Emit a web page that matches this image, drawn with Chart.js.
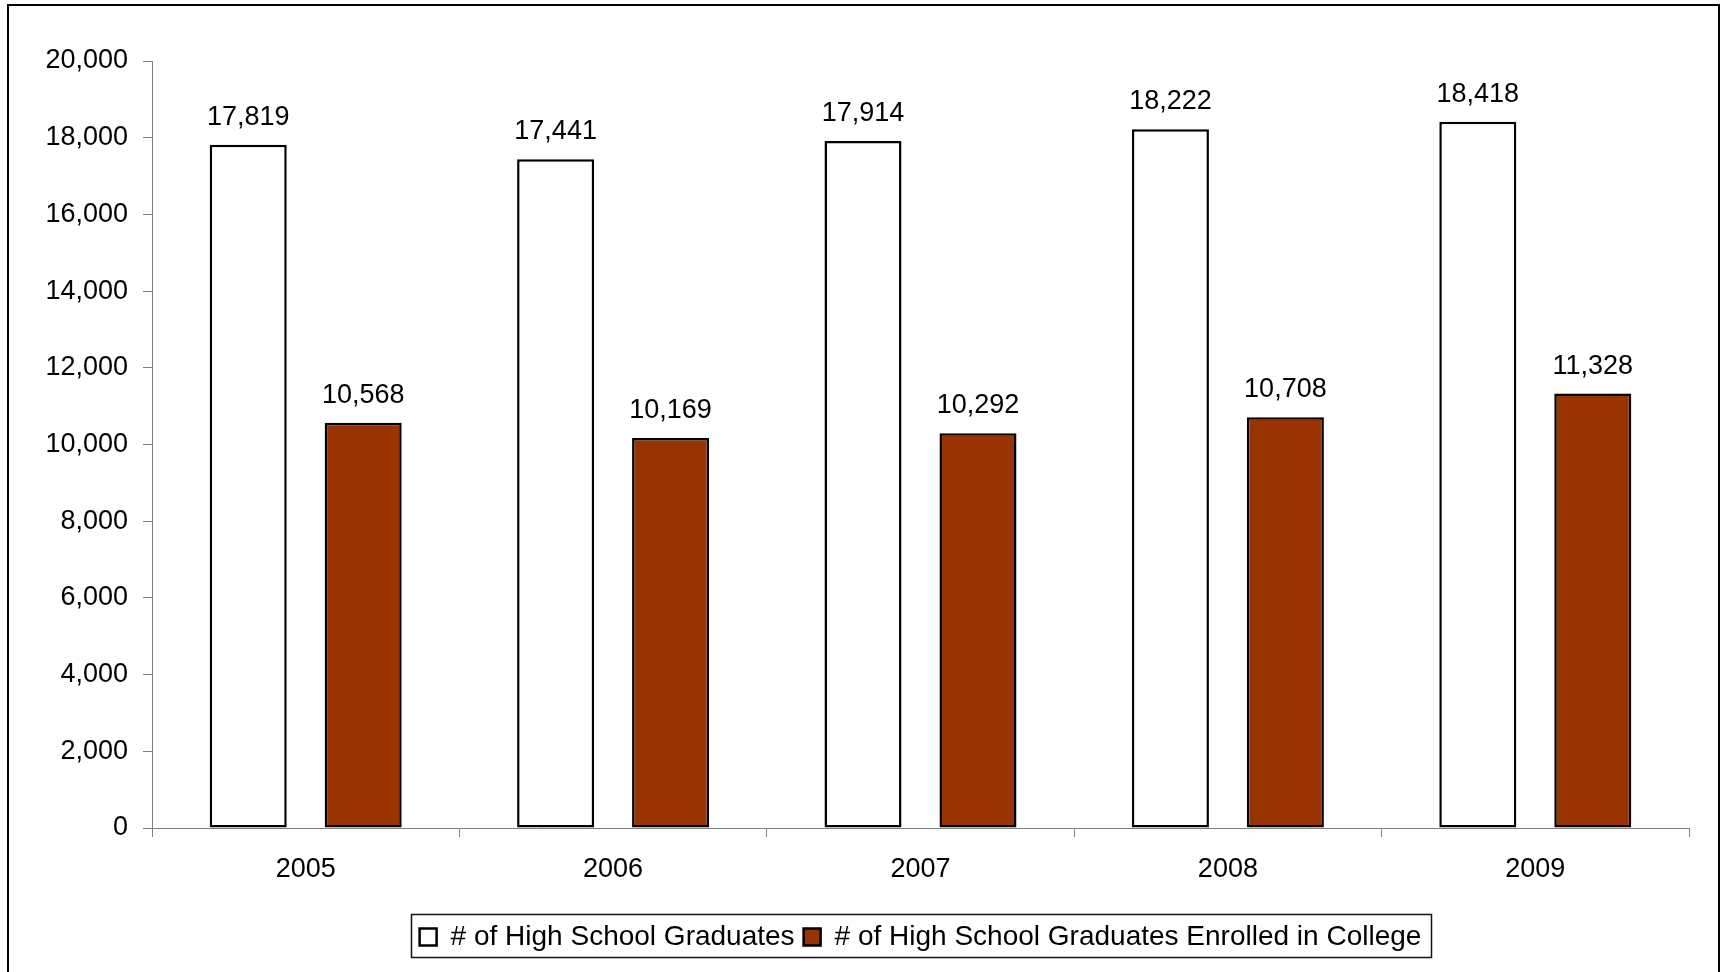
<!DOCTYPE html>
<html>
<head>
<meta charset="utf-8">
<script src="https://cdn.jsdelivr.net/npm/chart.js@4.4.1/dist/chart.umd.min.js"></script>
<style>
    html, body { margin: 0; padding: 0; background: #fff; }
    canvas { display: block; }
</style>
</head>
<body>
<canvas id="gradChart" width="1722" height="972"></canvas>
<script>
// values
const years = ["2005", "2006", "2007", "2008", "2009"];
const graduates = [17819, 17441, 17914, 18222, 18418];
const enrolled = [10568, 10169, 10292, 10708, 11328];
const yTicks = [0, 2000, 4000, 6000, 8000, 10000, 12000, 14000, 16000, 18000, 20000];

const FONT = "'Liberation Sans', Arial, sans-serif";
const fmt = v => v.toLocaleString("en-US");

// value labels over each bar
const valueLabels = {
    id: "valueLabels",
    afterDatasetsDraw(chart) {
        const ctx = chart.ctx;
        ctx.save();
        ctx.font = "27px " + FONT;
        ctx.fillStyle = "#000";
        ctx.textAlign = "center";
        ctx.textBaseline = "alphabetic";
        chart.data.datasets.forEach((ds, i) => {
            chart.getDatasetMeta(i).data.forEach((bar, j) => {
                ctx.fillText(fmt(ds.data[j]), bar.x, bar.y - 20);
            });
        });
        ctx.restore();
    }
};

// outer frame + box round the legend
const frame = {
    id: "frame",
    afterDraw(chart) {
        const ctx = chart.ctx;
        ctx.save();
        ctx.strokeStyle = "#000";
        ctx.lineWidth = 2;
        ctx.beginPath();
        ctx.moveTo(8, chart.height);
        ctx.lineTo(8, 5);
        ctx.lineTo(1719, 5);
        ctx.lineTo(1719, chart.height);
        ctx.stroke();

        const lg = chart.legend;
        const boxes = lg.legendHitBoxes;
        if (boxes && boxes.length) {
            const first = boxes[0];
            const last = boxes[boxes.length - 1];
            const left = first.left - 9;
            const right = last.left + last.width + 9;
            ctx.lineWidth = 1.5;
            ctx.strokeStyle = "#111";
            ctx.strokeRect(Math.round(left) + 0.5, lg.top + 0.5, Math.round(right - left), 43);
        }
        ctx.restore();
    }
};

const chart = new Chart(document.getElementById("gradChart").getContext("2d"), {
    type: "bar",
    data: {
        labels: years,
        datasets: [{
            label: "# of High School Graduates",
            data: graduates,
            backgroundColor: "#ffffff",
            borderColor: "#000000",
            borderWidth: 2.5,
            borderSkipped: false
        }, {
            label: "# of High School Graduates Enrolled in College",
            data: enrolled,
            backgroundColor: "#993300",
            borderColor: "#000000",
            borderWidth: 2.5,
            borderSkipped: false
        }]
    },
    options: {
        responsive: false,
        animation: false,
        devicePixelRatio: 1,
        categoryPercentage: 0.748,
        barPercentage: 0.67,
        layout: {
            padding: { left: 8, right: 33, top: 61, bottom: 11 }
        },
        plugins: {
            tooltip: { enabled: false },
            legend: {
                position: "bottom",
                fullSize: false,
                labels: {
                    color: "#000",
                    font: { family: FONT, size: 28 },
                    boxWidth: 17,
                    boxHeight: 17,
                    padding: 9
                }
            }
        },
        scales: {
            x: {
                offset: true,
                grid: {
                    offset: true,
                    drawOnChartArea: false,
                    drawTicks: true,
                    tickLength: 9,
                    color: "#808080"
                },
                border: { color: "#808080", width: 1 },
                ticks: {
                    color: "#000",
                    font: { family: FONT, size: 27 },
                    padding: 16
                },
                afterFit(scale) { scale.height = 86; }
            },
            y: {
                min: 0,
                max: 20000,
                afterBuildTicks(scale) {
                    scale.ticks = yTicks.map(v => ({ value: v }));
                },
                grid: {
                    drawOnChartArea: false,
                    drawTicks: true,
                    tickLength: 9,
                    color: "#808080"
                },
                border: { color: "#808080", width: 1 },
                ticks: {
                    color: "#000",
                    font: { family: FONT, size: 27 },
                    padding: 15,
                    callback: v => fmt(v)
                },
                afterFit(scale) { scale.width = 144; }
            }
        }
    },
    plugins: [valueLabels, frame]
});
</script>
</body>
</html>
